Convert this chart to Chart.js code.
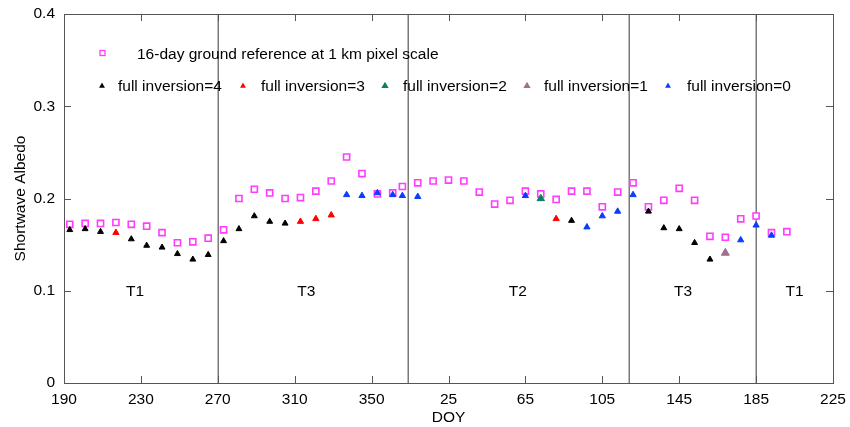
<!DOCTYPE html>
<html><head><meta charset="utf-8">
<script src="https://cdn.jsdelivr.net/npm/chart.js@4/dist/chart.umd.min.js"></script>
<style>html,body{margin:0;padding:0;background:#fff;}#wrap{width:850px;height:427px;}</style>
</head><body><div id="wrap"><canvas id="c"></canvas></div>
<script>
// Continuous day count (day 366 = DOY 1 of the following year)
const refDays = [193,201,209,217,225,233,241,249,257,265,273,281,289,297,305,313,321,329,337,345,353,361,
                 366,374,382,390,398,406,414,422,430,438,446,454,462,470,478,486,494,502,510,518,526,534,542,550,558,566];
const refVals = [0.172,0.173,0.173,0.174,0.172,0.170,0.163,0.152,0.153,0.157,0.166,0.200,0.210,0.206,0.200,0.201,0.208,0.219,0.245,0.227,0.205,0.206,
                 0.213,0.217,0.219,0.220,0.219,0.207,0.194,0.198,0.208,0.205,0.199,0.208,0.208,0.191,0.207,0.217,0.191,0.198,0.211,0.198,0.159,0.158,0.178,0.181,0.163,0.164];

const inv4Days = [193,201,209,225,233,241,249,257,265,273,281,289,297,305,454,494,502,510,518,526];
const inv4Vals = [0.166,0.167,0.164,0.156,0.149,0.147,0.140,0.134,0.139,0.154,0.167,0.181,0.175,0.173,0.176,0.186,0.168,0.167,0.152,0.134];
const inv3Days = [217,313,321,329,446];
const inv3Vals = [0.163,0.175,0.178,0.182,0.178];
const inv2Days = [438];
const inv2Vals = [0.200];
const inv1Days = [534];
const inv1Vals = [0.141];
const inv0Days = [337,345,353,361,366,374,430,462,470,478,486,542,550,558];
const inv0Vals = [0.204,0.203,0.206,0.204,0.203,0.202,0.203,0.169,0.181,0.186,0.204,0.155,0.171,0.160];

const seriesLabels = ['16-day ground reference at 1 km pixel scale','full inversion=4','full inversion=3','full inversion=2','full inversion=1','full inversion=0'];
const xTickValues = [190,230,270,310,350,390,430,470,510,550,590];
const yTickValues = [0,0.1,0.2,0.3,0.4];
const boundaryDays = [270,369,484,550];
const regionLabels = ['T1','T3','T2','T3','T1'];
const regionDays = [227,316,426,512,570];
const regionLevel = 0.1;

const FONT = "'Liberation Sans', Arial, sans-serif";
const COLORS = ['#ff3cff','#000000','#ff0000','#0a7f62','#a07090','#0a3cff'];

function pts(d, v){ return d.map((x,i)=>({x:x, y:v[i]})); }

function drawTri(ctx,x,y,r,color){
  ctx.beginPath();
  ctx.moveTo(x, y-r);
  ctx.lineTo(x+r*0.866, y+r/2);
  ctx.lineTo(x-r*0.866, y+r/2);
  ctx.closePath();
  ctx.fillStyle=color; ctx.fill();
}

const overlay = {
  id:'overlay',
  beforeDatasetsDraw(chart){
    const {ctx, chartArea:a, scales:{x}} = chart;
    ctx.save();
    ctx.strokeStyle='#7a7a7a'; ctx.lineWidth=1.5;
    boundaryDays.forEach(d=>{
      const px = Math.round(x.getPixelForValue(d))+0.25;
      ctx.beginPath(); ctx.moveTo(px,a.top); ctx.lineTo(px,a.bottom); ctx.stroke();
    });
    ctx.restore();
  },
  afterDatasetsDraw(chart){
    const {ctx, chartArea:a, scales:{x,y}} = chart;
    ctx.save();
    ctx.strokeStyle='#555'; ctx.lineWidth=1;
    ctx.strokeRect(Math.round(a.left)+0.5, Math.round(a.top)+0.5, Math.round(a.right-a.left), Math.round(a.bottom-a.top));
    const tl=7;
    ctx.beginPath();
    xTickValues.forEach(v=>{
      const px=Math.round(x.getPixelForValue(v))+0.5;
      ctx.moveTo(px,a.bottom); ctx.lineTo(px,a.bottom-tl);
      ctx.moveTo(px,a.top); ctx.lineTo(px,a.top+tl);
    });
    yTickValues.forEach(v=>{
      const py=Math.round(y.getPixelForValue(v))+0.5;
      ctx.moveTo(a.left,py); ctx.lineTo(a.left+tl,py);
      ctx.moveTo(a.right,py); ctx.lineTo(a.right-tl,py);
    });
    ctx.stroke();
    ctx.fillStyle='#000'; ctx.font='15.5px '+FONT; ctx.textAlign='center'; ctx.textBaseline='middle';
    regionLabels.forEach((t,i)=>{
      ctx.fillText(t, x.getPixelForValue(regionDays[i]), y.getPixelForValue(regionLevel)+1);
    });
    const a0=a.left, t0=a.top;
    const ds=chart.data.datasets;
    ctx.textAlign='left';
    ctx.strokeStyle=ds[0].borderColor; ctx.lineWidth=1.3;
    ctx.strokeRect(a0+36, t0+36.5, 5, 5);
    ctx.fillText(ds[0].label, a0+73, t0+41);
    const mx=[38,179,321,463,604], tx=[54,197,339,480,623];
    for(let i=1;i<ds.length;i++){
      const r = (i===3||i===4)?4.2:3.4;
      drawTri(ctx, a0+mx[i-1], t0+72, r, ds[i].backgroundColor);
      ctx.fillStyle='#000';
      ctx.fillText(ds[i].label, a0+tx[i-1], t0+73);
    }
    ctx.restore();
  }
};

const triDs = (i, d, v, r) => ({
  label: seriesLabels[i], data: pts(d,v), pointStyle:'triangle', pointRadius:r, pointHoverRadius:r,
  backgroundColor: COLORS[i], borderColor: COLORS[i], borderWidth:1, order:0, showLine:false
});

new Chart(document.getElementById('c'), {
  type:'scatter',
  data:{ datasets:[
    { label: seriesLabels[0], data: pts(refDays,refVals), pointStyle:'rect', pointRadius:4.3, pointHoverRadius:4.3,
      backgroundColor:'#ffffff', borderColor:COLORS[0], borderWidth:1.6, order:1, showLine:false },
    triDs(1, inv4Days, inv4Vals, 3.4),
    triDs(2, inv3Days, inv3Vals, 3.6),
    triDs(3, inv2Days, inv2Vals, 4.3),
    triDs(4, inv1Days, inv1Vals, 4.6),
    triDs(5, inv0Days, inv0Vals, 3.6)
  ]},
  options:{
    responsive:true, maintainAspectRatio:false, animation:false,
    layout:{padding:{top:14,right:17,left:0,bottom:0}},
    plugins:{legend:{display:false}, tooltip:{enabled:false}},
    scales:{
      x:{ type:'linear', min:190, max:590,
        afterBuildTicks:(s)=>{ s.ticks = xTickValues.map(v=>({value:v})); },
        afterFit:(s)=>{ s.height=44; s.paddingLeft=0; s.paddingRight=0; },
        ticks:{ callback:(v)=> v>365 ? v-365 : v, font:{family:FONT,size:15.5}, color:'#000', padding:7, maxRotation:0, autoSkip:false },
        grid:{display:false, drawTicks:false}, border:{display:false},
        title:{display:true, text:'DOY', font:{family:FONT,size:15.5}, color:'#000', padding:{top:0,bottom:0}}
      },
      y:{ min:0, max:0.4,
        afterBuildTicks:(s)=>{ s.ticks = yTickValues.map(v=>({value:v})); },
        afterFit:(s)=>{ s.width=64; s.paddingTop=0; s.paddingBottom=0; },
        ticks:{ callback:(v)=> String(+v.toFixed(1)), font:{family:FONT,size:15.5}, color:'#000', padding:9 },
        grid:{display:false, drawTicks:false}, border:{display:false},
        title:{display:true, text:'Shortwave Albedo', font:{family:FONT,size:15.5}, color:'#000', padding:{top:11,bottom:0}}
      }
    }
  },
  plugins:[overlay]
});
</script></body></html>
